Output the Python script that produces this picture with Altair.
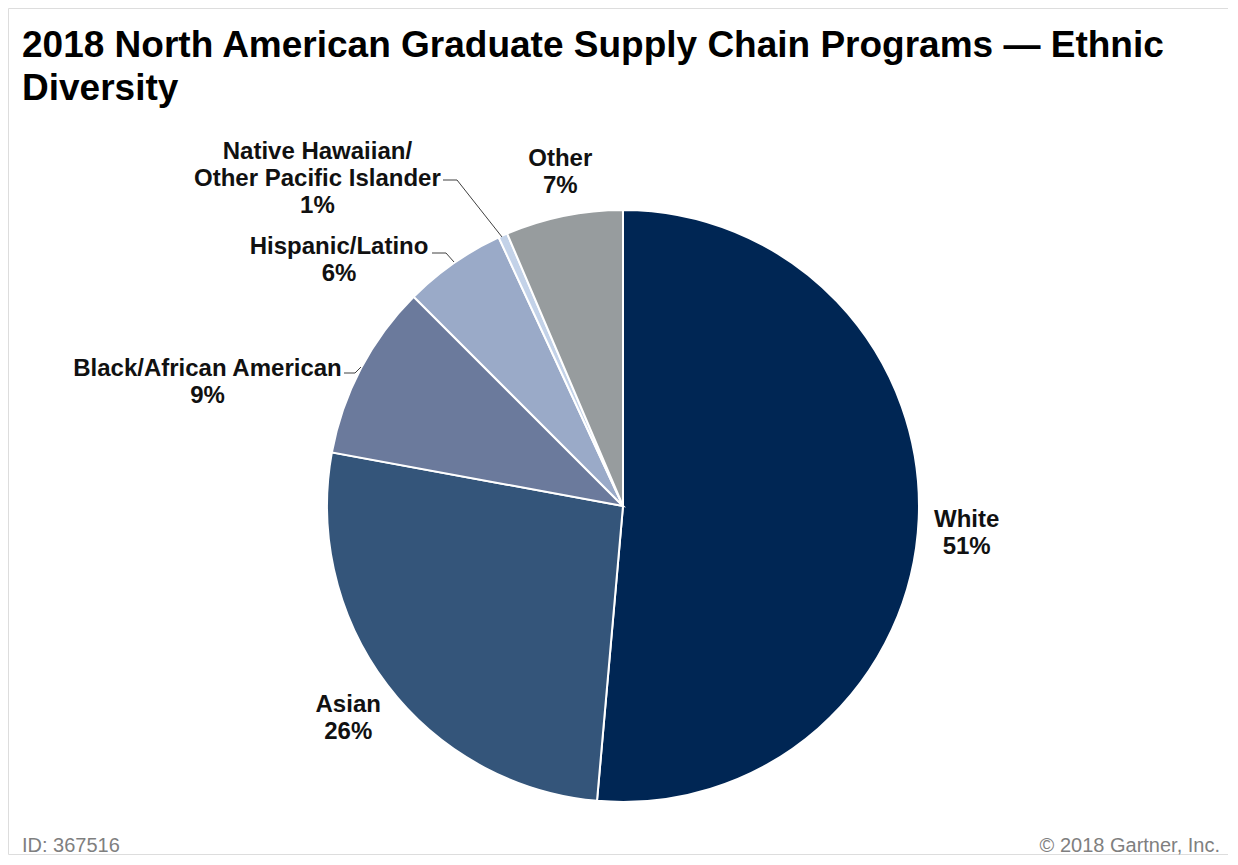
import math
import altair as alt
import pandas as pd

# ---- data ----
categories = ["White", "Asian", "Black/African American", "Hispanic/Latino",
              "Native Hawaiian/Other Pacific Islander", "Other"]
values = [51.4, 26.5, 9.6, 5.6, 0.5, 6.4]
pct_labels = ["51%", "26%", "9%", "6%", "1%", "7%"]
label_names = ["White", "Asian", "Black/African American", "Hispanic/Latino",
               "Native Hawaiian/\nOther Pacific Islander", "Other"]
colors = ["#002654", "#34557a", "#6b7a9c", "#9aaac8", "#c3d2e8", "#979c9e"]

title_lines = ["2018 North American Graduate Supply Chain Programs \u2014 Ethnic", "Diversity"]
footer_left = "ID: 367516"
footer_right = "\u00a9 2018 Gartner, Inc."

df = pd.DataFrame({
    "idx": list(range(len(categories))),
    "category": categories,
    "value": values,
    "label": [n + "\n" + p for n, p in zip(label_names, pct_labels)],
})
total = sum(values)

# ---- layout ----
W, H = 1220, 846
CX, CY = 615, 498
R = 296
LR = 344
FONT = "Liberation Sans"

theta_scale = alt.Scale(domain=[0, total])

base = alt.Chart(df).transform_window(
    cum="sum(value)", sort=[alt.SortField("idx")], frame=[None, 0]
).transform_calculate(
    start="datum.cum - datum.value",
    mid="datum.cum - datum.value / 2",
)

pie = base.mark_arc(outerRadius=R, stroke="white", strokeWidth=2).encode(
    theta=alt.Theta("start:Q", scale=theta_scale),
    theta2="cum:Q",
    x=alt.value(CX), y=alt.value(CY),
    color=alt.Color("category:N", scale=alt.Scale(domain=categories, range=colors), legend=None),
)

def label_layer(ids, dx=0, dy=0):
    return base.transform_filter(
        alt.FieldOneOfPredicate(field="idx", oneOf=ids)
    ).mark_text(
        radius=LR, dx=dx, dy=dy, font=FONT, fontSize=24, fontWeight="bold",
        color="#111111", lineBreak="\n", lineHeight=27, align="center", baseline="middle",
    ).encode(
        theta=alt.Theta("mid:Q", scale=theta_scale),
        x=alt.value(CX), y=alt.value(CY),
        text="label:N",
    )

label_white = label_layer([0], dx=0, dy=-1)
label_asian = label_layer([1], dx=-1, dy=-9)
label_black = label_layer([2], dx=-111, dy=23)
label_hisp = label_layer([3], dx=-87, dy=23)
label_native = label_layer([4], dx=-166, dy=-40)
label_other = label_layer([5], dx=6, dy=-10)

# leader lines (page coords minus 8px margin)
def seg(x1, y1, x2, y2):
    return alt.Chart(df.head(1)).mark_rule(color="#404040", strokeWidth=1).encode(
        x=alt.value(x1 - 8), y=alt.value(y1 - 8), x2=alt.value(x2 - 8), y2=alt.value(y2 - 8)
    )

leaders = [
    seg(344, 373, 355, 373), seg(355, 373, 361, 367),
    seg(432, 253, 446, 253), seg(446, 253, 454, 262),
    seg(443, 180, 457, 180), seg(457, 180, 502, 237),
]

def text_at(txt, x, y, size, weight="normal", color="#000000", align="left"):
    return alt.Chart(df.head(1)).mark_text(
        font=FONT, fontSize=size, fontWeight=weight, color=color,
        align=align, baseline="alphabetic",
    ).encode(x=alt.value(x), y=alt.value(y), text=alt.value(txt))

title1 = text_at(title_lines[0], 14, 49, 37, "bold")
title2 = text_at(title_lines[1], 14, 92, 37, "bold")
foot_l = text_at(footer_left, 14, 844, 20, color="#7f7f7f")
foot_r = text_at(footer_right, 1212, 844, 20, color="#7f7f7f", align="right")

chart = alt.layer(
    pie, label_white, label_asian, label_black, label_hisp, label_native, label_other,
    *leaders, title1, title2, foot_l, foot_r,
).properties(
    width=W, height=H, padding=0,
).configure_view(
    stroke="#cfcfcf", strokeWidth=1,
).configure(background="white")

chart.save("out.html", embed_options={"renderer": "svg", "actions": False})
